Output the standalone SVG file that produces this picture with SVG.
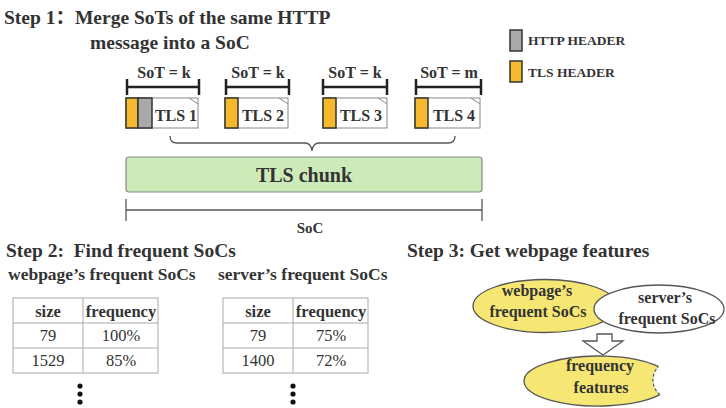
<svg xmlns="http://www.w3.org/2000/svg" width="726" height="408" viewBox="0 0 726 408">
<style>
text{font-family:"Liberation Serif","Noto Sans CJK SC",serif;fill:#333;}
.t{font-size:19.5px;font-weight:bold;}
.b{font-weight:bold;}
.leg{font-size:13.5px;font-weight:bold;}
.sot{font-size:16px;font-weight:bold;}
.tls{font-size:16px;font-weight:bold;}
.orange{fill:#f6b82c;stroke:#333;stroke-width:1.5;}
.gray{fill:#a9a9a9;stroke:#333;stroke-width:1.5;}
.box{fill:#fff;stroke:#888;stroke-width:1;}
.dim{stroke:#222;stroke-width:2.5;fill:none;}
.tbl{stroke:#aaa;stroke-width:1;fill:#fff;}
.cell{font-size:16.5px;}
.ell{font-size:16px;font-weight:bold;}
</style>

<g id="titles">
<text class="t" x="4" y="24">Step 1：Merge SoTs of the same HTTP</text>
<text class="t" x="90" y="49">message into a SoC</text>
<text class="t" x="6" y="257" xml:space="preserve">Step 2:  Find frequent SoCs</text>
<text class="t" x="407" y="257">Step 3: Get webpage features</text>
</g>

<g id="legend">
<rect class="gray" x="510" y="30" width="12" height="21"/>
<text class="leg" x="528" y="45">HTTP HEADER</text>
<rect class="orange" x="510" y="61" width="12" height="21"/>
<text class="leg" x="528" y="77">TLS HEADER</text>
</g>

<g id="connectors">
<g id="sot-brackets">
<path class="dim" d="M127 79V95M127 87H199M199 79V95"/>
<path class="dim" d="M226 79V95M226 87H289M289 79V95"/>
<path class="dim" d="M323 79V95M323 87H387M387 79V95"/>
<path class="dim" d="M416 79V95M416 87H481M481 79V95"/>
</g>
<path id="brace" d="M170 136Q170 143 177 143H305Q311 143 312 151Q313 143 319 143H448Q455 143 455 136" fill="none" stroke="#555" stroke-width="1.3"/>
<path id="soc-dim" d="M126 199V221M126 210H482M482 199V221" fill="none" stroke="#555" stroke-width="1.3"/>
<path id="block-arrow" d="M597 334H612V341H623L603 355L583 341H597Z" fill="#fff" stroke="#555" stroke-width="1.3"/>
</g>

<g id="sot1"><text class="sot" x="164" y="78" text-anchor="middle">SoT = k</text></g>
<g id="sot2"><text class="sot" x="258" y="78" text-anchor="middle">SoT = k</text></g>
<g id="sot3"><text class="sot" x="355" y="78" text-anchor="middle">SoT = k</text></g>
<g id="sot4"><text class="sot" x="449" y="78" text-anchor="middle">SoT = m</text></g>

<g id="tls1">
<rect class="box" x="126" y="98" width="72" height="30"/>
<path d="M189 98L198 104" stroke="#888" fill="none"/>
<rect class="orange" x="126" y="98" width="12" height="30"/>
<rect class="gray" x="138" y="98" width="14" height="30"/>
<text class="tls" x="176" y="121" text-anchor="middle">TLS 1</text>
</g>
<g id="tls2">
<rect class="box" x="225" y="98" width="63" height="30"/>
<path d="M279 98L288 104" stroke="#888" fill="none"/>
<rect class="orange" x="225" y="98" width="13" height="30"/>
<text class="tls" x="263" y="121" text-anchor="middle">TLS 2</text>
</g>
<g id="tls3">
<rect class="box" x="323" y="98" width="64" height="30"/>
<path d="M378 98L387 104" stroke="#888" fill="none"/>
<rect class="orange" x="323" y="98" width="13" height="30"/>
<text class="tls" x="361" y="121" text-anchor="middle">TLS 3</text>
</g>
<g id="tls4">
<rect class="box" x="415" y="98" width="65" height="30"/>
<path d="M471 98L480 104" stroke="#888" fill="none"/>
<rect class="orange" x="415" y="98" width="13" height="30"/>
<text class="tls" x="454" y="121" text-anchor="middle">TLS 4</text>
</g>

<g id="tls-chunk">
<rect x="126" y="157" width="356" height="35" rx="3" fill="#cdebb8" stroke="#888" stroke-width="1.2"/>
<text x="304" y="182" text-anchor="middle" style="font-size:20px;font-weight:bold">TLS chunk</text>
</g>
<g id="soc-label"><text x="310" y="233" text-anchor="middle" style="font-size:15px;font-weight:bold">SoC</text></g>

<g id="webpage-table">
<text x="8" y="280" style="font-size:17.5px;font-weight:bold">webpage’s frequent SoCs</text>
<rect class="tbl" x="13" y="298" width="145" height="75"/>
<path d="M83 298V373M13 323H158M13 348H158" stroke="#aaa" fill="none"/>
<text class="cell b" x="48" y="317" text-anchor="middle">size</text>
<text class="cell b" x="121" y="317" text-anchor="middle">frequency</text>
<text class="cell" x="48" y="341" text-anchor="middle">79</text>
<text class="cell" x="121" y="341" text-anchor="middle">100%</text>
<text class="cell" x="48" y="366" text-anchor="middle">1529</text>
<text class="cell" x="121" y="366" text-anchor="middle">85%</text>
<circle cx="80" cy="386" r="2.6" fill="#111"/>
<circle cx="80" cy="394" r="2.6" fill="#111"/>
<circle cx="80" cy="402" r="2.6" fill="#111"/>
</g>

<g id="server-table">
<text x="218" y="280" style="font-size:17.5px;font-weight:bold">server’s frequent SoCs</text>
<rect class="tbl" x="223" y="298" width="145" height="75"/>
<path d="M293 298V373M223 323H368M223 348H368" stroke="#aaa" fill="none"/>
<text class="cell b" x="258" y="317" text-anchor="middle">size</text>
<text class="cell b" x="331" y="317" text-anchor="middle">frequency</text>
<text class="cell" x="258" y="341" text-anchor="middle">79</text>
<text class="cell" x="331" y="341" text-anchor="middle">75%</text>
<text class="cell" x="258" y="366" text-anchor="middle">1400</text>
<text class="cell" x="331" y="366" text-anchor="middle">72%</text>
<circle cx="293" cy="386" r="2.6" fill="#111"/>
<circle cx="293" cy="394" r="2.6" fill="#111"/>
<circle cx="293" cy="402" r="2.6" fill="#111"/>
</g>

<g id="webpage-socs">
<ellipse cx="545" cy="306" rx="72" ry="26.5" fill="#f6e774" stroke="#555" stroke-width="1.3"/>
<text class="ell" x="537" y="296" text-anchor="middle">webpage’s</text>
<text class="ell" x="538" y="317" text-anchor="middle">frequent SoCs</text>
</g>
<g id="server-socs">
<ellipse cx="659" cy="309" rx="65" ry="24" fill="#fff" stroke="#555" stroke-width="1.3"/>
<text class="ell" x="665" y="303" text-anchor="middle">server’s</text>
<text class="ell" x="667" y="324" text-anchor="middle">frequent SoCs</text>
</g>

<g id="frequency-features">
<path d="M658.5 366.6A74 25 0 1 0 659.9 394.7A19 19 0 0 1 658.5 366.6Z" fill="#f6e774"/>
<path d="M658.5 366.6A74 25 0 1 0 659.9 394.7" fill="none" stroke="#555" stroke-width="1.3"/>
<path d="M659.9 394.7A19 19 0 0 1 658.5 366.6" fill="none" stroke="#555" stroke-width="1.2" stroke-dasharray="3 2"/>
<text class="ell" x="600" y="371" text-anchor="middle">frequency</text>
<text class="ell" x="601" y="393" text-anchor="middle">features</text>
</g>
</svg>
